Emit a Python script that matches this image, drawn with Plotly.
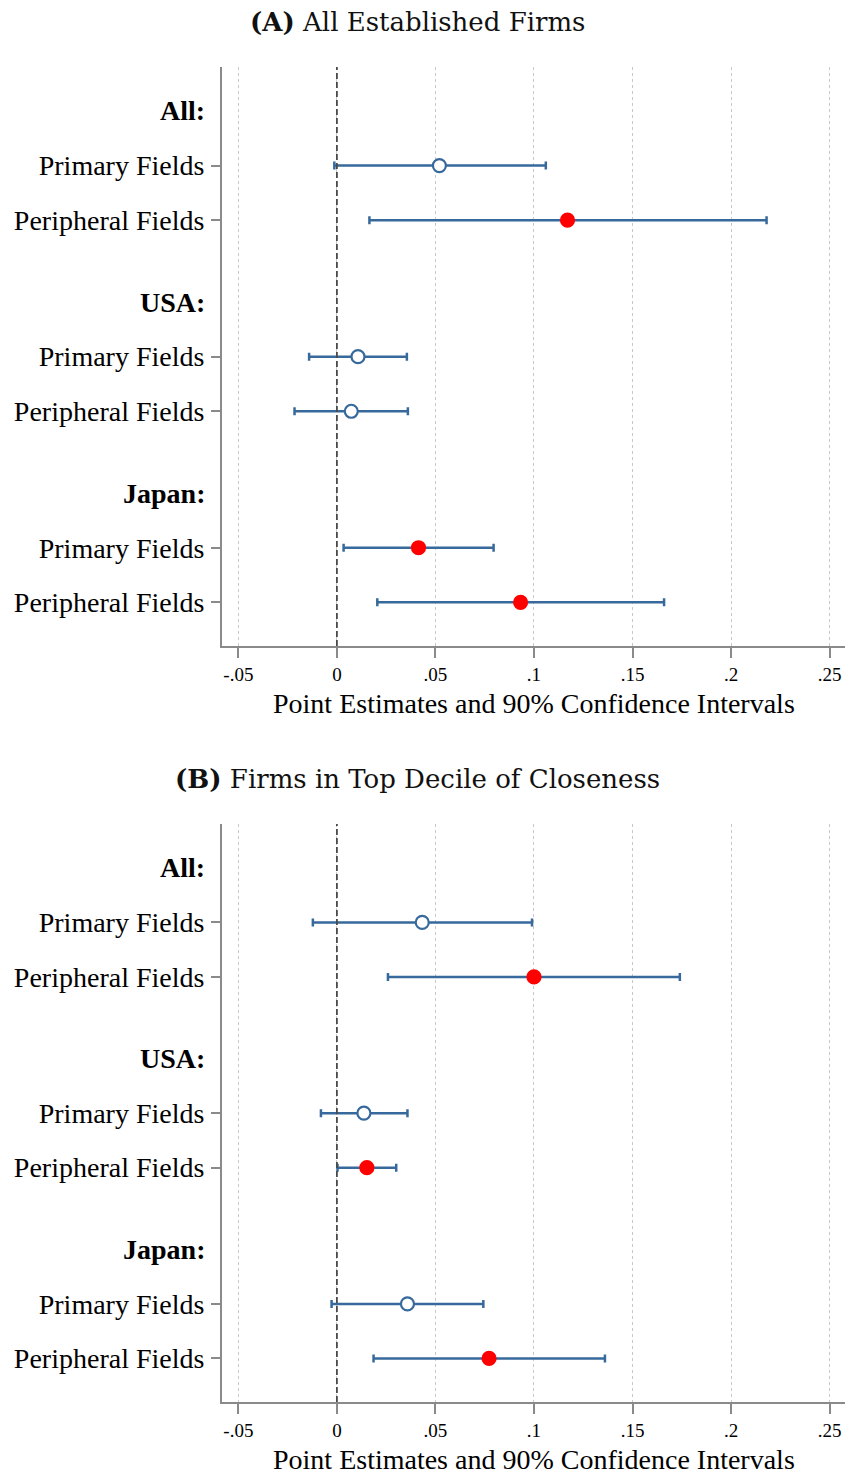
import plotly.graph_objects as go

# ---------------- data ----------------
groups = ["All:", "USA:", "Japan:"]
fields = ["Primary Fields", "Peripheral Fields"]

panel_titles = ["<b>(A)</b> All Established Firms", "<b>(B)</b> Firms in Top Decile of Closeness"]

est_A = [0.052, 0.117, 0.0107, 0.0073, 0.0414, 0.0932]
lo_A = [-0.0013, 0.0165, -0.0141, -0.0215, 0.0034, 0.0205]
hi_A = [0.106, 0.218, 0.0355, 0.036, 0.0795, 0.166]
sig_A = [False, True, False, False, True, True]

est_B = [0.0433, 0.100, 0.0137, 0.0152, 0.0358, 0.0772]
lo_B = [-0.0122, 0.0259, -0.0081, 0.0003, -0.0027, 0.0186]
hi_B = [0.0990, 0.174, 0.0358, 0.0301, 0.0743, 0.136]
sig_B = [False, True, False, True, False, True]

x_tickvals = [-0.05, 0, 0.05, 0.1, 0.15, 0.2, 0.25]
x_ticktext = ["-.05", "0", ".05", ".1", ".15", ".2", ".25"]
x_title = "Point Estimates and 90% Confidence Intervals"

# ---------------- layout helpers ----------------
W, H = 845, 1477
BLUE = "#37699c"
RED = "#ff0000"
AXC = "#8a8a8a"
FONT = "Liberation Serif"
TFONT = "DejaVu Serif"

GAP = 3.5
row_pos = []
row_lab = []
head_pos = []
for g, grp in enumerate(groups):
    head_pos.append(g * GAP)
    for r, f in enumerate(fields):
        row_pos.append(g * GAP + 1 + r)
        row_lab.append(f)

panels = [
    dict(est=est_A, lo=lo_A, hi=hi_A, sig=sig_A, top=67, bot=646, title_y=22),
    dict(est=est_B, lo=lo_B, hi=hi_B, sig=sig_B, top=824, bot=1402, title_y=779),
]

fig = go.Figure()
annotations = []
shapes = []

for i, p in enumerate(panels, start=1):
    xa = "x" if i == 1 else f"x{i}"
    ya = "y" if i == 1 else f"y{i}"
    plus = [h - e for h, e in zip(p["hi"], p["est"])]
    minus = [e - l for e, l in zip(p["est"], p["lo"])]
    fill = [RED if s else "white" for s in p["sig"]]
    line = [RED if s else BLUE for s in p["sig"]]
    fig.add_trace(go.Scatter(
        x=p["est"], y=row_pos, mode="markers", xaxis=xa, yaxis=ya,
        showlegend=False, hoverinfo="skip",
        marker=dict(symbol="circle", size=13, color=fill,
                    line=dict(color=line, width=2.2)),
        error_x=dict(type="data", symmetric=False, array=plus, arrayminus=minus,
                     color=BLUE, thickness=2.5, width=4),
    ))
    dom_y = [1 - p["bot"] / H, 1 - p["top"] / H]
    common_x = dict(
        domain=[222 / W, 1.0], range=[-0.0583, 0.2578],
        tickmode="array", tickvals=x_tickvals, ticktext=x_ticktext,
        ticks="outside", ticklen=10, tickwidth=1.5, tickcolor=AXC,
        tickfont=dict(family=FONT, size=19, color="black"),
        showline=True, linecolor=AXC, linewidth=2,
        showgrid=True, gridcolor="#c8c8c8", gridwidth=1, griddash="dot",
        zeroline=False, anchor=ya,
    )
    common_y = dict(
        domain=dom_y, range=[9.8, -0.806],
        tickmode="array", tickvals=row_pos, ticktext=row_lab,
        ticks="outside", ticklen=9, tickwidth=1.5, tickcolor=AXC,
        tickfont=dict(family=FONT, size=28, color="black"),
        ticklabelstandoff=1,
        showline=True, linecolor=AXC, linewidth=2,
        showgrid=False, zeroline=False, anchor=xa,
    )
    fig.update_layout(**{("xaxis" if i == 1 else f"xaxis{i}"): common_x,
                         ("yaxis" if i == 1 else f"yaxis{i}"): common_y})
    # zero reference line
    shapes.append(dict(type="line", xref=xa, yref=f"{ya} domain",
                       x0=0, x1=0, y0=0, y1=1,
                       line=dict(color="#4a4a4a", width=1.8, dash="6px,3px")))
    # group headings
    for hp, grp in zip(head_pos, groups):
        annotations.append(dict(text=f"<b>{grp}</b>", xref=f"{xa} domain", yref=ya,
                                x=0, y=hp, xanchor="right", yanchor="middle",
                                xshift=-15, showarrow=False,
                                font=dict(family=FONT, size=28, color="black")))
    # panel title
    annotations.append(dict(text=panel_titles[i - 1], xref="paper", yref="paper",
                            x=417 / W, y=1 - p["title_y"] / H,
                            xanchor="center", yanchor="middle", showarrow=False,
                            font=dict(family=TFONT, size=26, color="#111111")))
    # x-axis title
    annotations.append(dict(text=x_title, xref="paper", yref="paper",
                            x=534 / W, y=1 - (p["bot"] + 57) / H,
                            xanchor="center", yanchor="middle", showarrow=False,
                            font=dict(family=FONT, size=28, color="black")))

fig.update_layout(
    width=W, height=H,
    margin=dict(l=0, r=0, t=0, b=0),
    paper_bgcolor="white", plot_bgcolor="white",
    annotations=annotations, shapes=shapes,
)

fig.write_html("out.html", config={"displayModeBar": False},
               post_script="document.body.style.margin='0px';document.body.style.padding='0px';")
